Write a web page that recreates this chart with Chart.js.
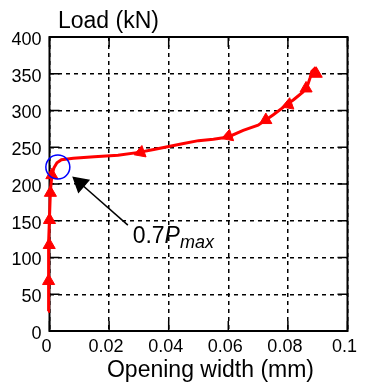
<!DOCTYPE html>
<html>
<head>
<meta charset="utf-8">
<script src="https://cdn.jsdelivr.net/npm/chart.js@4/dist/chart.umd.min.js"></script>
<style>
html, body { margin: 0; padding: 0; background: #fff; }
#wrap { width: 365px; height: 383px; position: relative; }
</style>
</head>
<body>
<div id="wrap"><canvas id="chart"></canvas></div>
<script>
// load - opening width curve (mm, kN)
const openingWidth = [-0.0005, -0.0004, -0.0002, 0.0000, 0.0003, 0.0008, 0.0015, 0.0025, 0.004, 0.008, 0.015, 0.023, 0.030, 0.035, 0.040, 0.045, 0.050, 0.055, 0.060, 0.065, 0.070, 0.075, 0.080, 0.082, 0.085, 0.0865, 0.0875, 0.088, 0.089, 0.0905];
const load =         [27, 70, 120, 155, 190, 212, 222, 229, 233, 235, 237, 239, 243, 247, 251, 255, 259, 261, 264, 273, 280, 294, 309, 315, 325, 333, 345, 353, 357, 349];

// triangle markers on the curve
const markerWidth = [-0.0003, -0.0001, 0.0000, 0.0003, 0.0008, 0.0306, 0.060, 0.0726, 0.0802, 0.0861, 0.0895];
const markerLoad =  [68, 117, 151, 188, 212, 243, 265, 287, 308, 330, 350];

// 0.7 Pmax callout
const circlePoint = { x: 0.0028, y: 223 };
const arrowTail = { x: 0.0263, y: 144 };
const arrowHead = { x: 0.0103, y: 201 };
const calloutAt = { x: 0.0279, y: 119.7 };

const xTicks = [0, 0.02, 0.04, 0.06, 0.08, 0.1];
const yTicks = [0, 50, 100, 150, 200, 250, 300, 350, 400];
const xTitle = 'Opening width (mm)';
const yTitle = 'Load (kN)';

const FONT = '"Liberation Sans", Arial, sans-serif';

const curve = openingWidth.map((v, i) => ({ x: v, y: load[i] }));
const markers = markerWidth.map((v, i) => ({ x: v, y: markerLoad[i] }));

const markerAngle = function (i) {
    // arrows on the flat part point back down the curve
    if (i >= 5 && i <= 8) return i === 7 ? -120 : -110;
    return 0;
};

const frame = {
    id: 'frame',
    beforeDatasetsDraw(chart) {
        const { ctx, chartArea: a, scales: { x, y } } = chart;
        ctx.save();
        ctx.strokeStyle = '#000';
        ctx.lineWidth = 2;
        ctx.strokeRect(a.left, a.top, a.right - a.left, a.bottom - a.top);
        ctx.lineWidth = 1.5;
        ctx.beginPath();
        for (const v of xTicks) {
            const px = x.getPixelForValue(v);
            ctx.moveTo(px, a.top); ctx.lineTo(px, a.top + 10);
            ctx.moveTo(px, a.bottom); ctx.lineTo(px, a.bottom - 10);
        }
        for (const v of yTicks) {
            const py = y.getPixelForValue(v);
            ctx.moveTo(a.left, py); ctx.lineTo(a.left + 10, py);
            ctx.moveTo(a.right, py); ctx.lineTo(a.right - 10, py);
        }
        ctx.stroke();
        ctx.restore();
    },
    afterDraw(chart) {
        const { ctx, chartArea: a, scales: { x, y } } = chart;
        ctx.save();
        ctx.fillStyle = '#000';
        ctx.textBaseline = 'alphabetic';
        ctx.font = '23px ' + FONT;
        ctx.textAlign = 'left';
        ctx.fillText(yTitle, a.left + 8.5, 28);
        ctx.textAlign = 'center';
        ctx.fillText(xTitle, (a.left + a.right) / 2 + 12, 377);

        // 0.7 P_max
        ctx.textAlign = 'left';
        let px = x.getPixelForValue(calloutAt.x);
        const py = y.getPixelForValue(calloutAt.y);
        ctx.font = '23px ' + FONT;
        ctx.fillText('0.7', px, py);
        px += ctx.measureText('0.7').width;
        ctx.font = 'italic 23px ' + FONT;
        ctx.fillText('P', px, py);
        px += ctx.measureText('P').width;
        ctx.font = 'italic 18px ' + FONT;
        ctx.fillText('max', px, py + 5);
        ctx.restore();
    }
};

new Chart(document.getElementById('chart'), {
    type: 'scatter',
    data: {
        datasets: [
            {
                label: 'curve',
                data: curve,
                showLine: true,
                borderColor: '#ff0000',
                borderWidth: 3,
                pointRadius: 0,
                fill: false,
                clip: false,
                order: 2
            },
            {
                label: 'markers',
                data: markers,
                showLine: false,
                pointStyle: 'triangle',
                pointRadius: 7,
                pointRotation: ctx => markerAngle(ctx.dataIndex),
                backgroundColor: '#ff0000',
                borderColor: '#ff0000',
                borderWidth: 1,
                clip: false,
                order: 1
            },
            {
                label: 'circle',
                data: [circlePoint],
                pointRadius: 12,
                backgroundColor: 'rgba(0,0,0,0)',
                borderColor: '#0000ff',
                borderWidth: 1.5,
                clip: false,
                order: 0
            },
            {
                label: 'arrow',
                data: [arrowTail, arrowHead],
                showLine: true,
                borderColor: '#000',
                borderWidth: 1.5,
                pointRadius: [0, 9],
                pointStyle: 'triangle',
                pointRotation: -49.5,
                backgroundColor: '#000',
                clip: false,
                order: 0
            }
        ]
    },
    options: {
        responsive: true,
        maintainAspectRatio: false,
        animation: false,
        events: [],
        layout: { padding: { left: 0, top: 37, right: 9, bottom: 0 } },
        plugins: {
            legend: { display: false },
            tooltip: { enabled: false }
        },
        scales: {
            x: {
                type: 'linear',
                // range set after data limits so points just left of 0 are still drawn
                afterDataLimits: s => { s.min = 0; s.max = 0.1; },
                afterFit: s => { s.height = 52; },
                afterBuildTicks: s => { s.ticks = xTicks.map(v => ({ value: v })); s.min = 0; s.max = 0.1; },
                grid: { color: '#000', lineWidth: 1.5, drawTicks: false },
                border: { display: false, dash: [4, 4] },
                ticks: {
                    color: '#000',
                    font: { family: FONT, size: 18 },
                    padding: 5,
                    labelOffset: -3,
                    maxRotation: 0,
                    callback: v => String(Math.round(v * 100) / 100)
                }
            },
            y: {
                type: 'linear',
                min: 0,
                max: 400,
                afterFit: s => { s.width = 49.5; },
                afterBuildTicks: s => { s.ticks = yTicks.map(v => ({ value: v })); },
                grid: { color: '#000', lineWidth: 1.5, drawTicks: false },
                border: { display: false, dash: [4, 4] },
                ticks: {
                    color: '#000',
                    font: { family: FONT, size: 18 },
                    padding: 8,
                    labelOffset: 3
                }
            }
        }
    },
    plugins: [frame]
});
</script>
</body>
</html>
